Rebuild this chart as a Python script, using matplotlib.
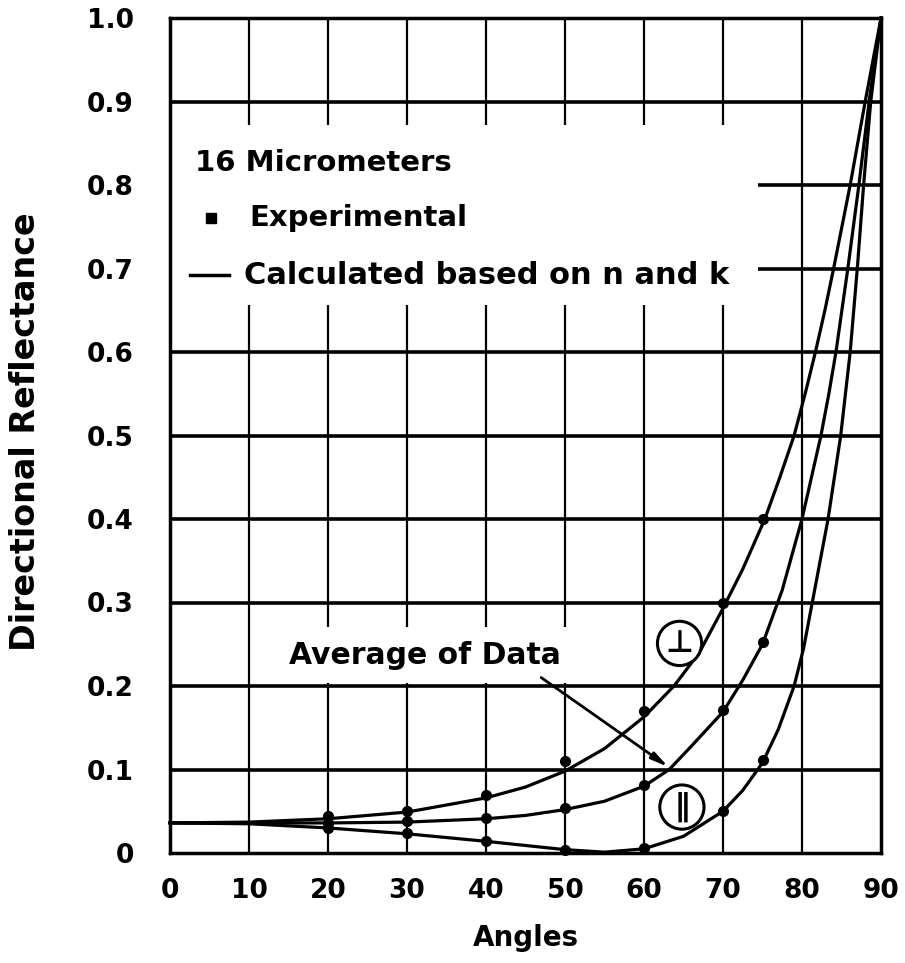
import matplotlib
matplotlib.use("Agg")
import matplotlib.pyplot as plt
from matplotlib.patches import Rectangle, Ellipse

plt.rcParams['font.family'] = ['DejaVu Sans']
plt.rcParams['font.weight'] = 'bold'

# ---- data ----
x_ticks = [0, 10, 20, 30, 40, 50, 60, 70, 80, 90]
y_ticks = [0, 0.1, 0.2, 0.3, 0.4, 0.5, 0.6, 0.7, 0.8, 0.9, 1.0]
y_tick_labels = ["0", "0.1", "0.2", "0.3", "0.4", "0.5", "0.6", "0.7", "0.8", "0.9", "1.0"]

angles_perp = [0, 10, 20, 30, 40, 45, 50, 55, 60, 63.8, 67, 70, 72.5, 75.3, 77.2, 79.0, 80.4, 81.7, 82.9, 84.0, 86.1, 88.0, 90]
R_perp = [0.036, 0.037, 0.041, 0.049, 0.066, 0.079, 0.098, 0.125, 0.163, 0.200, 0.240, 0.293, 0.340, 0.400, 0.450, 0.500, 0.550, 0.600, 0.650, 0.700, 0.800, 0.900, 1.0]

angles_avg = [0, 10, 20, 30, 40, 45, 50, 55, 60, 63.2, 66, 70, 72.5, 75, 77.5, 80, 81.2, 82.4, 83.4, 84.3, 85.8, 87.2, 88.5, 90]
R_avg = [0.036, 0.036, 0.036, 0.037, 0.041, 0.045, 0.052, 0.062, 0.080, 0.100, 0.128, 0.169, 0.207, 0.250, 0.315, 0.400, 0.450, 0.500, 0.550, 0.600, 0.700, 0.800, 0.900, 1.0]

angles_par = [0, 10, 20, 30, 40, 45, 50, 55, 60, 65, 70, 72.5, 75, 77, 79, 80.2, 81.3, 82.3, 83.3, 84.9, 86.1, 87.0, 87.8, 88.7, 90]
R_par = [0.036, 0.035, 0.030, 0.023, 0.014, 0.009, 0.004, 0.001, 0.005, 0.020, 0.050, 0.075, 0.108, 0.148, 0.200, 0.245, 0.300, 0.350, 0.400, 0.500, 0.600, 0.700, 0.800, 0.900, 1.0]

exp_angles = [20, 30, 40, 50, 60, 70, 75]
exp_perp = [0.044, 0.050, 0.069, 0.110, 0.170, 0.300, 0.400]
exp_avg = [0.036, 0.038, 0.042, 0.054, 0.081, 0.171, 0.253]
exp_par = [0.030, 0.024, 0.014, 0.003, 0.006, 0.050, 0.111]

# ---- figure ----
fig = plt.figure(figsize=(9.05, 9.63), dpi=100)
ax = fig.add_axes([170 / 905, 1 - 853 / 963, 711 / 905, 835 / 963])
ax.set_xlim(0, 90)
ax.set_ylim(0, 1.0)

# grid
for xv in x_ticks[1:-1]:
    ax.axvline(xv, color='black', lw=1.6, zorder=1)
for yv in y_ticks[1:-1]:
    ax.axhline(yv, color='black', lw=2.6, zorder=1)

# white boxes behind text (interrupt the grid)
ax.add_patch(Rectangle((0, 0.656), 74.4, 0.216, facecolor='white', edgecolor='none', zorder=2))
ax.add_patch(Rectangle((14.0, 0.203), 40.5, 0.068, facecolor='white', edgecolor='none', zorder=2))

# curves
for a, r in [(angles_perp, R_perp), (angles_avg, R_avg), (angles_par, R_par)]:
    ax.plot(a, r, color='black', lw=2.3, zorder=4, solid_joinstyle='round', clip_on=False)

# experimental points
for ys in [exp_perp, exp_avg, exp_par]:
    ax.plot(exp_angles, ys, 'o', color='black', ms=7, zorder=5, clip_on=False)

# legend text
ax.text(3.2, 0.826, "16 Micrometers", fontsize=21, fontweight='bold', va='center', ha='left', zorder=6)
ax.plot([5.2], [0.760], 's', color='black', ms=7, zorder=6)
ax.text(10.0, 0.760, "Experimental", fontsize=21, fontweight='bold', va='center', ha='left', zorder=6)
ax.plot([2.5, 7.5], [0.692, 0.692], color='black', lw=2.5, zorder=6)
ax.text(9.4, 0.692, "Calculated based on n and k", fontsize=22, fontweight='bold', va='center', ha='left', zorder=6)

# annotation
ax.text(15.0, 0.237, "Average of Data", fontsize=21.5, fontweight='bold', va='center', ha='left', zorder=6)
ax.annotate("", xy=(63.4, 0.101), xytext=(46.7, 0.212),
            arrowprops=dict(arrowstyle='-|>,head_length=1.0,head_width=0.22', color='black', lw=2.0),
            zorder=6)

# circled symbols
ax.add_patch(Ellipse((64.5, 0.251), 5.6, 0.053, facecolor='white', edgecolor='black', lw=2.2, zorder=6))
ax.text(64.5, 0.251, "\u22a5", fontsize=22, ha='center', va='center', zorder=7)
ax.add_patch(Ellipse((64.8, 0.055), 5.6, 0.053, facecolor='white', edgecolor='black', lw=2.2, zorder=6))
ax.text(64.8, 0.055, "\u2225", fontsize=22, ha='center', va='center', zorder=7)

# axes styling
for s in ax.spines.values():
    s.set_linewidth(2.5)
    s.set_zorder(3)
ax.set_xticks(x_ticks)
ax.set_xticklabels([str(v) for v in x_ticks])
ax.set_yticks(y_ticks)
ax.set_yticklabels(y_tick_labels)
ax.tick_params(axis='both', length=0, labelsize=19)
ax.tick_params(axis='x', pad=18)
ax.tick_params(axis='y', pad=26)
for lab in ax.get_xticklabels() + ax.get_yticklabels():
    lab.set_fontweight('bold')

ax.set_xlabel("Angles", fontsize=20, fontweight='bold')
ax.set_ylabel("Directional Reflectance", fontsize=24, fontweight='bold')
ax.xaxis.set_label_coords(0.5, -0.085)
ax.yaxis.set_label_coords(-0.18, 0.505)

fig.savefig("out.png", dpi=100)
